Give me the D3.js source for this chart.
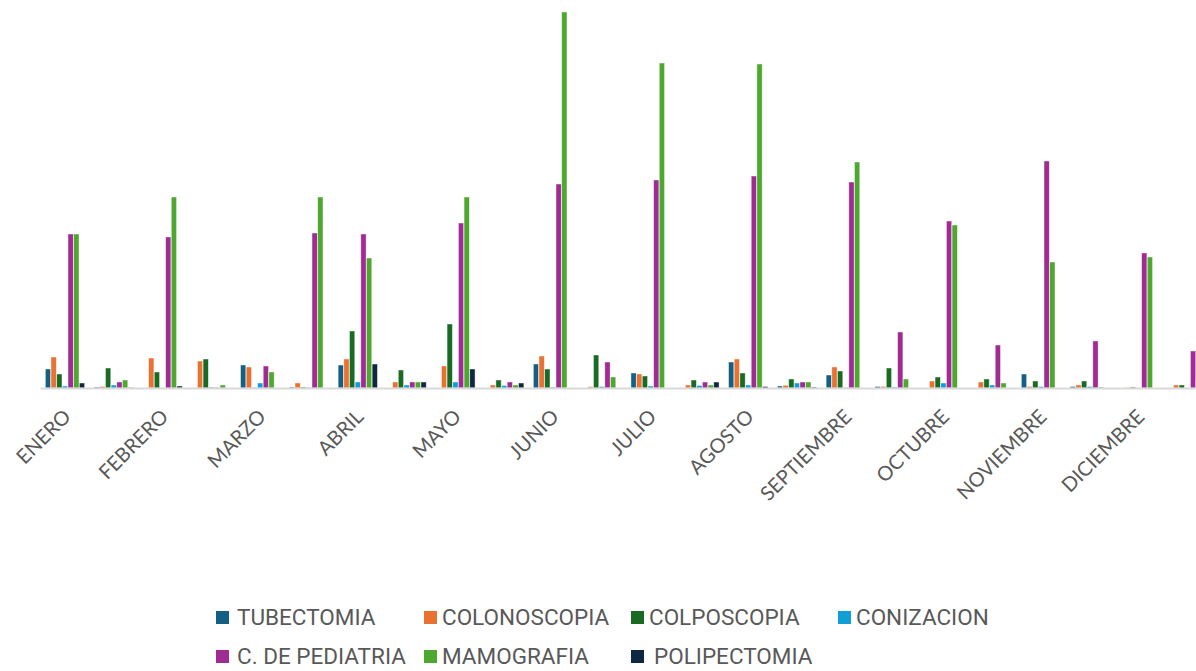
<!DOCTYPE html>
<html>
<head>
<meta charset="utf-8">
<script src="https://cdn.jsdelivr.net/npm/d3@7"></script>
<style>
  html, body { margin: 0; padding: 0; background: #fff; }
  svg { display: block; }
</style>
</head>
<body>
<svg id="chart" width="1196" height="671"></svg>
<script>
// meses (cada mes ocupa dos grupos, solo se rotula el primero)
const meses = ["ENERO", "FEBRERO", "MARZO", "ABRIL", "MAYO", "JUNIO",
  "JULIO", "AGOSTO", "SEPTIEMBRE", "OCTUBRE", "NOVIEMBRE", "DICIEMBRE"];
const categorias = meses.flatMap((m) => [m, m + "_2"]);

const series = ["TUBECTOMIA", "COLONOSCOPIA", "COLPOSCOPIA", "CONIZACION",
  "C. DE PEDIATRIA", "MAMOGRAFIA", "POLIPECTOMIA"];

const tubectomia   = [19, 1, 0, 0, 23, 1, 23, 0, 0, 0, 24, 0, 15, 0, 26, 2, 13, 1.5, 0, 0, 14, 1.5, 0, 0];
const colonoscopia = [31, 1.5, 30, 27, 21, 5, 29, 6, 22, 3, 32, 1.3, 14, 3, 29, 2.7, 21, 1.5, 7, 6, 1.5, 3, 0.5, 3];
const colposcopia  = [14, 20, 16, 29, 0.5, 1, 57, 18, 64, 8, 19, 33, 12, 8, 15, 9, 17, 20, 11, 9, 7, 7, 1, 3];
const conizacion   = [2, 3, 0, 1, 5, 0.5, 6, 3, 6, 2.5, 1, 1.5, 2, 2.5, 3, 5, 0.5, 1, 5, 3, 1.5, 1.5, 0, 0];
const pediatria    = [154, 6, 151, 0.7, 22, 155, 154, 6, 165, 6, 204, 26, 208, 6, 212, 6, 206, 56, 167, 43, 227, 47, 135, 37];
const mamografia   = [154, 8, 191, 3, 16, 191, 130, 6, 191, 3, 376, 11, 325, 3, 324, 6, 226, 9, 163, 5, 126, 1, 131, 8];
const polipectomia = [5, 0.5, 2, 0, 0, 0, 24, 6, 19, 5, 0, 0, 0, 6, 1.5, 1, 0, 0, 0, 0, 0, 0, 0, 0];

const valores = [tubectomia, colonoscopia, colposcopia, conizacion, pediatria, mamografia, polipectomia];
const colores = ["#156082", "#E97132", "#196B24", "#0F9ED5", "#A02B93", "#4EA72E", "#0E2841"];

const svg = d3.select("#chart");
const baseY = 388;

const x0 = d3.scaleBand()
  .domain(categorias)
  .range([40.6, 1211.8])
  .paddingInner(0.18)
  .paddingOuter(0.09);

const x1 = d3.scaleBand()
  .domain(series)
  .range([0, x0.bandwidth()])
  .padding(0.06);

const y = d3.scaleLinear().domain([0, 380]).range([baseY, baseY - 380]);

const color = d3.scaleOrdinal().domain(series).range(colores);

const filas = categorias.map((c, i) => ({
  cat: c,
  vals: series.map((s, k) => ({ serie: s, v: valores[k][i] }))
}));

// barras
const grupos = svg.append("g")
  .selectAll("g")
  .data(filas)
  .enter()
  .append("g")
  .attr("transform", (d) => `translate(${x0(d.cat)},0)`);

grupos.selectAll("rect")
  .data((d) => d.vals)
  .enter()
  .append("rect")
  .attr("x", (d) => x1(d.serie))
  .attr("y", (d) => y(d.v))
  .attr("width", x1.bandwidth())
  .attr("height", (d) => baseY - y(d.v))
  .attr("fill", (d) => color(d.serie))
  .attr("stroke", "#fff")
  .attr("stroke-opacity", 0.6)
  .attr("stroke-width", 0.75);

// eje x
const xAxis = d3.axisBottom(x0)
  .tickValues(meses)
  .tickSize(0)
  .tickFormat((d) => d);

const ejeX = svg.append("g")
  .attr("transform", `translate(0,${baseY})`)
  .call(xAxis);

ejeX.select(".domain")
  .attr("stroke", "#d9d9d9")
  .attr("stroke-width", 2)
  .attr("d", "M40.6,0.5H1196");

ejeX.selectAll(".tick text")
  .attr("fill", "#595959")
  .attr("font-family", "Lato, 'Open Sans', sans-serif")
  .attr("font-size", 20)
  .attr("text-anchor", "end")
  .attr("y", 0)
  .attr("dy", 0)
  .attr("transform", "translate(7,30) rotate(-45)");

// leyenda
const legendSq = [
  [216, 617], [424, 617], [631, 617], [838, 617],
  [216, 656], [424, 656], [631, 656]
];
const legendTx = [237, 442, 649, 856, 237, 442, 654];

const leyenda = svg.append("g")
  .selectAll("g")
  .data(series)
  .enter()
  .append("g");

leyenda.append("rect")
  .attr("x", (d, i) => legendSq[i][0])
  .attr("y", (d, i) => legendSq[i][1] - 6)
  .attr("width", 13)
  .attr("height", 13)
  .attr("fill", (d) => color(d));

leyenda.append("text")
  .attr("x", (d, i) => legendTx[i])
  .attr("y", (d, i) => legendSq[i][1])
  .attr("dy", "0.35em")
  .attr("fill", "#595959")
  .attr("font-family", "Roboto, sans-serif")
  .attr("font-size", 22.5)
  .text((d) => d);
</script>
</body>
</html>
